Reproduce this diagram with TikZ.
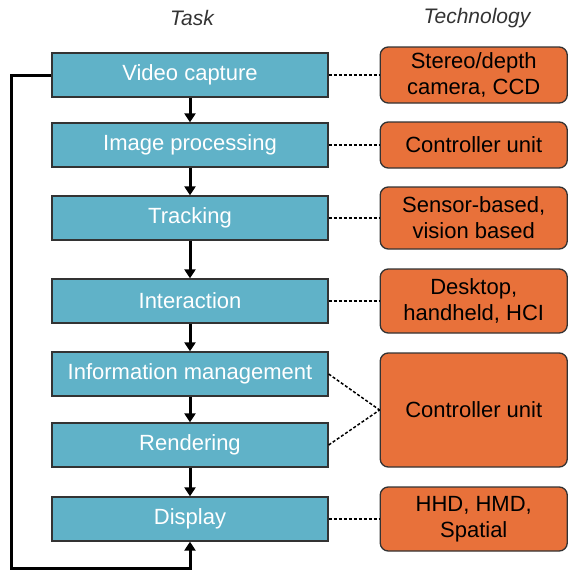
\documentclass[tikz,border=0pt]{standalone}
\usepackage{fontspec}
\setmainfont{Liberation Sans}
\usetikzlibrary{positioning,arrows.meta}
\definecolor{taskblue}{RGB}{96,178,200}
\definecolor{techorange}{RGB}{232,113,58}

\begin{document}
\begin{tikzpicture}[x=1pt, y=1pt, node distance=70pt, on grid,
>={Triangle[width=11pt,length=9pt]},
task/.style={draw=black!80, line width=1.3pt, fill=taskblue, text=white,
  minimum width=276pt, minimum height=44pt, inner sep=0pt,
  font=\fontsize{22}{26}\selectfont},
tech/.style={draw=black!80, line width=1.3pt, fill=techorange, rounded corners=8pt,
  minimum width=187pt, inner sep=0pt, align=center,
  font=\fontsize{22}{26}\selectfont},
head/.style={text=black!80, font=\fontsize{21}{25}\selectfont\itshape},
flow/.style={->, line width=3pt},
link/.style={line width=1.5pt, dash pattern=on 3pt off 2pt}]
\useasboundingbox (0,0) rectangle (568,-571);
% tasks
\node [task] (vid) at (190,-75) {Video capture};
\node [task] (img) [below = 70pt of vid] {Image processing};
\node [task] (trk) [below = 73pt of img] {Tracking};
\node [task] (int) [below = 83pt of trk] {Interaction};
\node [task] (info) [below = 73pt of int] {Information management};
\node [task] (rend) [below = 71pt of info] {Rendering};
\node [task] (disp) [below = 74pt of rend] {Display};
% technologies
\node [tech, minimum height=56pt] (cam) [right = 283.75pt of vid] {Stereo/depth\\camera, CCD};
\node [tech, minimum height=46pt] (ctrl) [right = 283.75pt of img] {Controller unit};
\node [tech, minimum height=62pt] (sens) [right = 283.75pt of trk] {Sensor-based,\\vision based};
\node [tech, minimum height=64pt] (desk) [right = 283.75pt of int] {Desktop,\\handheld, HCI};
\node [tech, minimum height=114pt] (ctrlb) at (473.75,-410) {Controller unit};
\node [tech, minimum height=64pt] (hmd) [right = 283.75pt of disp] {HHD, HMD,\\Spatial};
% headers
\node [head] (task) at (192,-18) {Task};
\node [head] (techn) at (477,-18) {Technology};
\coordinate (back) at (11,-568);
\path [flow]
(vid) edge (img)
(img) edge (trk)
(trk) edge (int)
(int) edge (info)
(info) edge (rend)
(rend) edge (disp);
\draw [flow] (vid.west) -| (back) -| (disp.south);
\path [link]
(vid) edge (cam)
(img) edge (ctrl)
(trk) edge (sens)
(int) edge (desk)
(info.east) edge (ctrlb.west)
(rend.east) edge (ctrlb.west)
(disp) edge (hmd);
\end{tikzpicture}
\end{document}
